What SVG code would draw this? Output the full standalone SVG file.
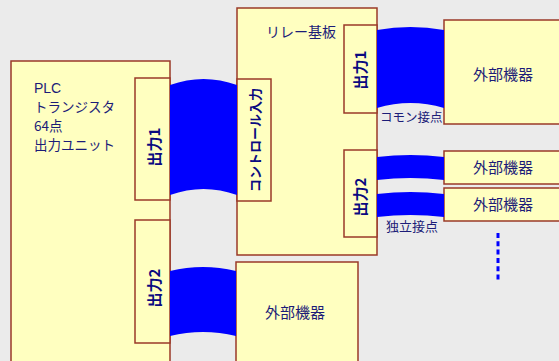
<svg xmlns="http://www.w3.org/2000/svg" width="559" height="361" viewBox="0 0 559 361">
<style>
.box{fill:#ffffc0;stroke:#9a3a28;stroke-width:1.5}
.t{font-family:"Noto Sans CJK JP","Liberation Sans",sans-serif;fill:#1c1c78}
.v{font-family:"Noto Sans CJK JP","Liberation Sans",sans-serif;fill:#0a0a80;font-weight:bold;text-anchor:middle;dominant-baseline:central}
.band{fill:#0000ff}
</style>
<rect width="559" height="361" fill="#ebebeb"/>
<g id="plc">
<rect class="box" x="11" y="61" width="159" height="310"/>
<text class="t" font-size="13.5"><tspan x="34" y="93" font-family="Liberation Sans, sans-serif" font-size="14">PLC</tspan><tspan x="34" y="112">トランジスタ</tspan><tspan x="34" y="131">64点</tspan><tspan x="34" y="150">出力ユニット</tspan></text>
</g>
<g id="plc-out1">
<rect class="box" x="135" y="78" width="35" height="122"/>
<text class="v" font-size="15" transform="translate(153,147) rotate(-90)">出力1</text>
</g>
<g id="plc-out2">
<rect class="box" x="135" y="220" width="35" height="123"/>
<text class="v" font-size="15" transform="translate(153,288) rotate(-90)">出力2</text>
</g>
<g id="relay">
<rect class="box" x="237" y="8" width="140" height="247"/>
<text class="t" font-size="14" x="266" y="37">リレー基板</text>
</g>
<g id="relay-in">
<rect class="box" x="237" y="79" width="34" height="122"/>
<text class="v" font-size="13" transform="translate(254,140) rotate(-90)">コントロール入力</text>
</g>
<g id="relay-out1">
<rect class="box" x="344" y="25" width="33" height="88"/>
<text class="v" font-size="15" transform="translate(359,70) rotate(-90)">出力1</text>
</g>
<g id="relay-out2">
<rect class="box" x="344" y="150" width="33" height="87"/>
<text class="v" font-size="15" transform="translate(359,197) rotate(-90)">出力2</text>
</g>
<g id="ext1">
<rect class="box" x="444" y="20" width="130" height="104"/>
<text class="t" font-size="15" x="503" y="80" text-anchor="middle">外部機器</text>
</g>
<g id="ext2">
<rect class="box" x="444" y="151" width="130" height="33"/>
<text class="t" font-size="15" x="503" y="173" text-anchor="middle">外部機器</text>
</g>
<g id="ext3">
<rect class="box" x="444" y="188" width="130" height="33"/>
<text class="t" font-size="15" x="503" y="210" text-anchor="middle">外部機器</text>
</g>
<g id="ext4">
<rect class="box" x="236" y="262" width="122" height="110"/>
<text class="t" font-size="15" x="295" y="318" text-anchor="middle">外部機器</text>
</g>
<g id="connectors">
<path class="band" d="M170,85 Q203.5,73 237,85 L237,195 Q203.5,183 170,195 Z"/>
<path class="band" d="M170,271 Q203,263 236,271 L236,336 Q203,328 170,336 Z"/>
<path class="band" d="M377,30 Q410.5,24 444,30 L444,108 Q410.5,98 377,108 Z"/>
<path class="band" d="M377,157 Q410.5,153 444,157 L444,180 Q410.5,176 377,180 Z"/>
<path class="band" d="M377,194 Q410.5,190 444,194 L444,217 Q410.5,213 377,217 Z"/>
<line x1="498" y1="233" x2="498" y2="281" stroke="#0000ff" stroke-width="3" stroke-dasharray="5,3.3"/>
<text class="t" font-size="12.5" x="380" y="122">コモン接点</text>
<text class="t" font-size="13" x="386" y="231">独立接点</text>
</g>
</svg>
